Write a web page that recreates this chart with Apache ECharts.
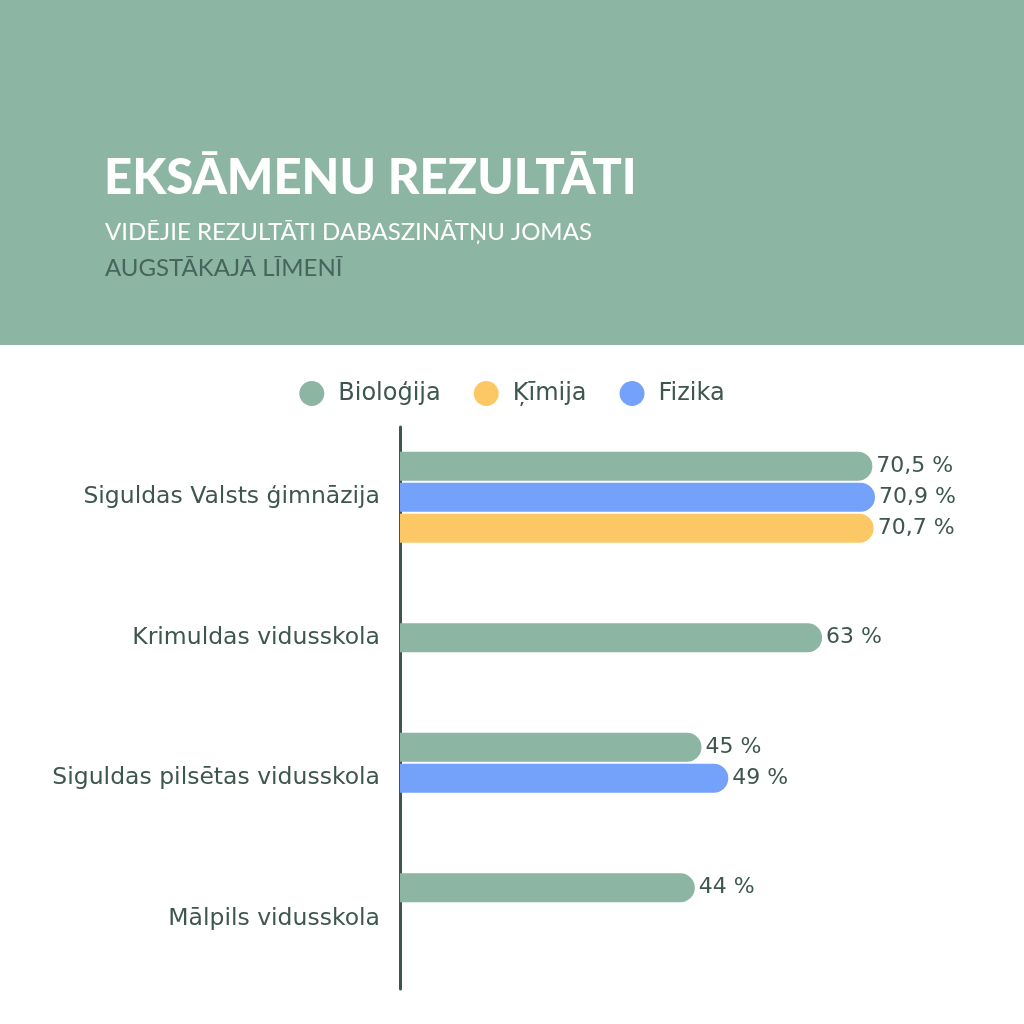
<!DOCTYPE html>
<html style="height:100%">
<head>
    <meta charset="UTF-8">
    <title>Eksāmenu rezultāti</title>
    <script src="https://cdn.jsdelivr.net/npm/echarts@6/dist/echarts.min.js"></script>
</head>
<body style="height:100%;margin:0">
<div id="main" style="width:1024px;height:1024px"></div>
<script>
    // dati
    var schools = ['Siguldas Valsts ģimnāzija', 'Krimuldas vidusskola', 'Siguldas pilsētas vidusskola', 'Mālpils vidusskola'];
    var biologija = [70.5, null, 45, 44];
    var biologijaMid = [null, 63, null, null];   // Krimuldas bar sits in the middle slot in the original
    var fizika = [70.9, null, 49, null];
    var kimija = [70.7, null, null, null];

    var green = '#8db5a3', yellow = '#fcc865', blue = '#74a2fb', dark = '#3e5650';
    var titleFont = 'Lato';
    var font = 'DejaVu Sans';

    function pct(p) {
        return String(p.value).replace('.', ',') + ' %';
    }

    function barSeries(name, data, color, stack) {
        return {
            type: 'bar',
            name: name,
            data: data,
            stack: stack,
            barWidth: 29,
            barGap: '7%',
            itemStyle: { color: color, borderRadius: [0, 15, 15, 0] },
            label: {
                show: true,
                position: 'right',
                distance: 4,
                formatter: pct,
                color: dark,
                fontFamily: font,
                fontSize: 22
            }
        };
    }

    var chart = echarts.init(document.getElementById('main'), null, { renderer: 'canvas' });
    var option = {
        backgroundColor: '#ffffff',
        animation: false,
        graphic: [
            { type: 'rect', left: 0, top: 0, shape: { width: 1024, height: 345 }, style: { fill: '#8cb5a3' }, z: -1 }
        ],
        title: [
            { text: 'EKSĀMENU REZULTĀTI', left: 99, top: 149,
              textStyle: { color: '#ffffff', fontFamily: titleFont, fontWeight: 900, fontSize: 49 } },
            { text: 'VIDĒJIE REZULTĀTI DABASZINĀTŅU JOMAS', left: 100, top: 215,
              textStyle: { color: '#ffffff', fontFamily: titleFont, fontWeight: 'normal', fontSize: 24 } },
            { text: 'AUGSTĀKAJĀ LĪMENĪ', left: 100, top: 251,
              textStyle: { color: '#46655c', fontFamily: titleFont, fontWeight: 'normal', fontSize: 24 } }
        ],
        legend: {
            data: ['Bioloģija', 'Ķīmija', 'Fizika'],
            top: 376,
            left: 'center',
            icon: 'circle',
            itemWidth: 25,
            itemHeight: 25,
            itemGap: 33,
            textStyle: { color: dark, fontFamily: font, fontSize: 24, padding: [0, 0, 0, 9] }
        },
        grid: { left: 400, right: 21, top: 427, bottom: 35 },
        xAxis: {
            type: 'value', min: 0, max: 90,
            show: false
        },
        yAxis: {
            type: 'category',
            data: schools,
            inverse: true,
            axisLine: { lineStyle: { color: dark, width: 3 } },
            axisTick: { show: false },
            axisLabel: { color: dark, fontFamily: font, fontSize: 23.5, margin: 20 }
        },
        series: [
            barSeries('Bioloģija', biologija, green),
            barSeries('Fizika', fizika, blue, 'mid'),
            barSeries('Ķīmija', kimija, yellow),
            barSeries('Bioloģija', biologijaMid, green, 'mid')
        ]
    };
    chart.setOption(option);
</script>
</body>
</html>
